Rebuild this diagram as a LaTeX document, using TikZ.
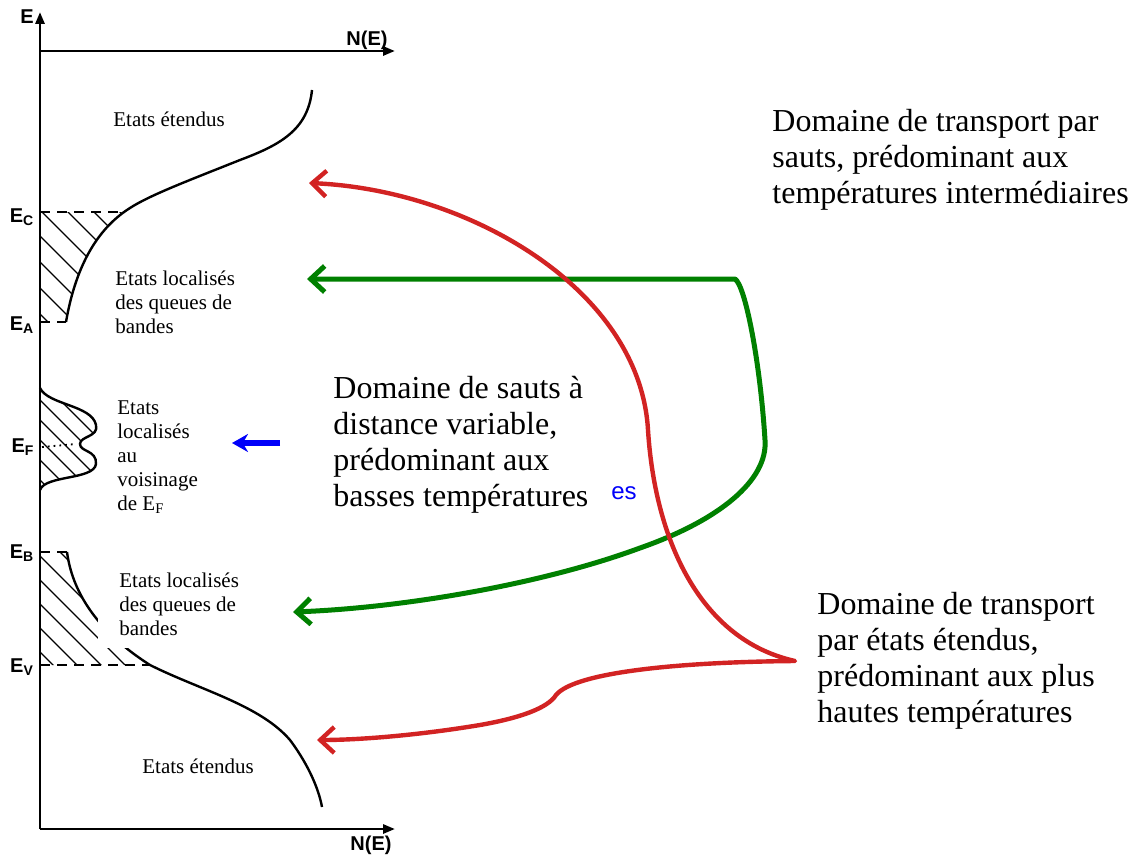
\documentclass[tikz,border=0pt]{standalone}
\usepackage{fontspec}
\setmainfont{Liberation Serif}
\setsansfont{Liberation Sans}
\usetikzlibrary{arrows.meta}
\definecolor{arrowred}{RGB}{210,35,35}
\definecolor{arrowgreen}{RGB}{0,128,0}
\definecolor{arrowblue}{RGB}{0,0,250}

\begin{document}
\begin{tikzpicture}[x=0.5pt,y=-0.5pt,
    axis/.style={line width=1.4pt,-{Triangle[length=6pt,width=4.5pt]}},
    dos/.style={line width=1.2pt},
    level/.style={line width=1pt,dash pattern=on 5pt off 3.5pt},
    hatch/.style={line width=0.7pt},
    lbl/.style={font=\sffamily\bfseries\fontsize{10}{12}\selectfont,inner sep=0pt},
    small/.style={font=\fontsize{10.5}{12}\selectfont,align=left,anchor=west,inner sep=0pt},
    big/.style={font=\fontsize{16}{18}\selectfont,align=left,anchor=west,inner sep=0pt},
    barbs/.style={line cap=round,line join=round,
      {Straight Barb[length=7pt,width=13pt]}-{Straight Barb[length=7pt,width=13pt]}},
    redarrow/.style={draw=arrowred,line width=2.2pt,barbs},
    greenarrow/.style={draw=arrowgreen,line width=2.5pt,barbs},
    bluearrow/.style={draw=arrowblue,line width=3pt,-{Stealth[length=8pt,width=9pt]}}]
\useasboundingbox (0,0) rectangle (1135,856);

% axes
\coordinate (origin) at (40,829);
\coordinate (etop) at (40,12);
\coordinate (ntop) at (395,51);
\coordinate (nbot) at (395,829);
\draw[axis] (origin) -- (etop);
\draw[axis] (40,51) -- (ntop);
\draw[axis] (origin) -- (nbot);
\node[lbl] (elabel) at (27,17) {E};
\node[lbl] (ntoplabel) at (367,40) {N(E)};
\node[lbl] (nbotlabel) at (371,845) {N(E)};

% hatched tails
\begin{scope}
  \clip (40,212) rectangle (400,322);
  \clip (40,90) -- (312,90) .. controls (308,130) and (280,145) .. (240,160)
    .. controls (190,180) and (150,195) .. (130,208)
    .. controls (95,230) and (75,270) .. (66,322) -- (40,322) -- cycle;
  \foreach \k in {-100,-74,...,140} \draw[hatch] (\k,200) -- ++(140,140);
\end{scope}
\begin{scope}
  \clip (40,388) .. controls (48,405) and (92,405) .. (96,425)
    .. controls (99,437) and (80,436) .. (80,444)
    .. controls (80,452) and (97,450) .. (96,464)
    .. controls (94,480) and (45,475) .. (40,490) -- cycle;
  \foreach \k in {-80,-60,...,100} \draw[hatch] (\k,380) -- ++(120,120);
\end{scope}
\begin{scope}
  \clip (40,552) -- (67,552) .. controls (72,590) and (95,630) .. (150,665)
    -- (40,665) -- cycle;
  \foreach \k in {-120,-96,...,140} \draw[hatch] (\k,540) -- ++(140,140);
\end{scope}

% density of states
\draw[dos] (312,90) .. controls (308,130) and (280,145) .. (240,160)
  .. controls (190,180) and (150,195) .. (130,208)
  .. controls (95,230) and (75,270) .. (66,322);
\draw[dos] (40,388) .. controls (48,405) and (92,405) .. (96,425)
  .. controls (99,437) and (80,436) .. (80,444)
  .. controls (80,452) and (97,450) .. (96,464)
  .. controls (94,480) and (45,475) .. (40,490);
\draw[dos] (67,552) .. controls (72,590) and (95,630) .. (150,665)
  .. controls (200,690) and (260,705) .. (290,740)
  .. controls (305,760) and (318,785) .. (322,807);

% levels
\draw[level] (40,212) -- (123,212);
\draw[level] (40,322) -- (66,322);
\draw[level] (40,552) -- (67,552);
\draw[level] (40,665) -- (150,665);
\draw[line width=0.9pt,dotted] (42,447) -- (76,444);
\node[lbl] (ec) at (22,217) {E\textsubscript{C}};
\node[lbl] (ea) at (22,325) {E\textsubscript{A}};
\node[lbl] (ef) at (23,447) {E\textsubscript{F}};
\node[lbl] (eb) at (22,553) {E\textsubscript{B}};
\node[lbl] (ev) at (22,667) {E\textsubscript{V}};

% labels of the bands
\node[small] (extup) at (113,119) {Etats étendus};
\node[small] (locup) at (115,302) {Etats localisés\\des queues de\\bandes};
\node[small] (locf) at (117,457) {Etats\\localisés\\au\\voisinage\\de E\textsubscript{F}};
\fill[white] (98,566) rectangle (245,648);
\node[small] (locdown) at (119,604) {Etats localisés\\des queues de\\bandes};
\node[small] (extdown) at (142,766) {Etats étendus};

% transport domains
\node[big] (vrh) at (333,445) {Domaine de sauts à\\distance variable,\\prédominant aux\\basses températures};
\node[big] (hop) at (772,160) {Domaine de transport par\\sauts, prédominant aux\\températures intermédiaires};
\node[big] (ext) at (817,661) {Domaine de transport\\par états étendus,\\prédominant aux plus\\hautes températures};
\node[font=\sffamily\fontsize{12}{14}\selectfont,text=arrowblue,inner sep=0pt] (es) at (624,493) {es};

% arrows
\coordinate (bluefrom) at (280,443);
\coordinate (blueto) at (232,443);
\draw[bluearrow] (bluefrom) -- (blueto);

\coordinate (gtip1) at (307,279);
\coordinate (gcorner) at (735,279);
\coordinate (gtip2) at (293,612);
\draw[greenarrow] (gtip1) -- (gcorner)
  .. controls (745,285) and (760,360) .. (765,440)
  .. controls (768,480) and (720,520) .. (640,548)
  .. controls (540,585) and (400,608) .. (gtip2);

\coordinate (rtip1) at (309,183);
\coordinate (rjoin) at ([xshift=-11pt]ext.west);
\coordinate (rtip2) at (317,740);
\draw[redarrow] (rtip1) .. controls (470,190) and (640,290) .. (648,430)
  .. controls (655,540) and (700,640) .. (rjoin)
  .. controls (680,662) and (575,672) .. (556,695)
  .. controls (548,708) and (520,718) .. (480,725)
  .. controls (420,735) and (360,740) .. (rtip2);
\end{tikzpicture}
\end{document}
